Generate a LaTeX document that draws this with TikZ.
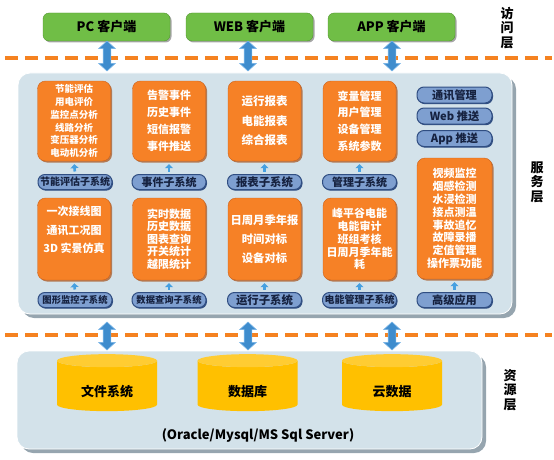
\documentclass[tikz,border=0pt]{standalone}
\usepackage{fontspec}
\setmainfont{Noto Sans CJK SC}
\usetikzlibrary{shapes.geometric,shapes.arrows,arrows.meta,shadows}
\definecolor{clientgreen}{RGB}{112,190,70}
\definecolor{clientedge}{RGB}{84,150,50}
\definecolor{boxorange}{RGB}{246,129,38}
\definecolor{boxedge}{RGB}{205,98,28}
\definecolor{pillfill}{RGB}{126,159,208}
\definecolor{pilledge}{RGB}{48,78,130}
\definecolor{pilltext}{RGB}{22,34,64}
\definecolor{panelfill}{RGB}{211,226,234}
\definecolor{panelshadow}{RGB}{150,165,175}
\definecolor{lineorange}{RGB}{245,130,32}
\definecolor{arrowblue}{RGB}{62,140,205}
\definecolor{arrowlight}{RGB}{120,180,230}
\definecolor{smallblue}{RGB}{70,160,225}
\definecolor{cylbody}{RGB}{255,192,0}
\definecolor{cyltop}{RGB}{255,204,50}
\begin{document}
\begin{tikzpicture}[x=1pt, y=-1pt,
    layerline/.style={draw=lineorange, line width=3.5pt, dash pattern=on 13pt off 7pt},
    panel/.style={draw=white, line width=0.8pt, fill=panelfill, rounded corners=12pt,
                  inner sep=0pt, drop shadow={shadow xshift=4pt, shadow yshift=-4pt,
                  fill=panelshadow, opacity=1}},
    client/.style={draw=clientedge, fill=clientgreen, rounded corners=6pt, inner sep=0pt,
                   minimum width=127pt, minimum height=28pt,
                   font=\bfseries\fontsize{13}{15}\selectfont,
                   drop shadow={shadow xshift=1.5pt, shadow yshift=-1.5pt, fill=black!35, opacity=1}},
    obox/.style={draw=boxedge, fill=boxorange, rounded corners=8pt, inner sep=0pt,
                 minimum width=73pt, text=white, align=center,
                 drop shadow={shadow xshift=1.5pt, shadow yshift=-1.5pt, fill=boxedge!80!black, opacity=0.7}},
    otxt/.style={text=white, align=center, inner sep=0pt},
    subsys/.style={draw=pilledge, line width=1pt, fill=pillfill, rounded corners=7pt,
                   inner sep=0pt, minimum width=74pt, minimum height=15pt, text=pilltext,
                   drop shadow={shadow xshift=1pt, shadow yshift=-1.2pt, fill=pilledge, opacity=1}},
    uparrow/.style={draw=smallblue, line width=2.6pt, -{Triangle[width=8pt,length=4pt]},
                    shorten <=2.5pt, shorten >=3pt},
    dblarrow/.style={double arrow, rotate=90, draw=arrowlight, line width=0.6pt, fill=arrowblue,
                     inner xsep=0pt, inner ysep=3.5pt, double arrow head extend=4.5pt,
                     double arrow tip angle=95},
    store/.style={cylinder, shape border rotate=90, aspect=0.25, cylinder uses custom fill,
                  cylinder body fill=cylbody, cylinder end fill=cyltop, inner sep=0pt,
                  minimum width=100pt, minimum height=57pt,
                  font=\bfseries\fontsize{13}{15}\selectfont},
    storetxt/.style={inner sep=0pt, font=\bfseries\fontsize{13}{15}\selectfont},
    layer/.style={align=center, inner sep=0pt, font=\bfseries\fontsize{13}{14.5}\selectfont}]
\useasboundingbox (0,0) rectangle (554,460);

% layer separators
\foreach \y in {58,335}{
  \draw[layerline] (5,\y) -- (552,\y);
}

% panels
\node[panel, minimum width=494pt, minimum height=241pt] (svc) at (265,193.5) {};
\node[panel, minimum width=465pt, minimum height=98pt] (res) at (249.5,400) {};

% access layer
\node[client] (pc) at (106.5,27) {PC 客户端};
\node[client] (web) at (249.5,27) {WEB 客户端};
\node[client] (app) at (391.5,27) {APP 客户端};
\node[layer] (lacc) at (507,28) {访\\问\\层};

% service layer, first row
\node[obox, minimum height=80pt, font=\bfseries\fontsize{9.5}{12.8}\selectfont] (ev) at (74,121)
  {节能评估\\用电评价\\监控点分析\\线路分析\\变压器分析\\电动机分析};
\node[obox, minimum height=80pt, font=\bfseries\fontsize{11}{17}\selectfont] (evt) at (169,121)
  {告警事件\\历史事件\\短信报警\\事件推送};
\node[obox, minimum height=80pt, font=\bfseries\fontsize{11.5}{19.5}\selectfont] (rpt) at (264.5,121)
  {运行报表\\电能报表\\综合报表};
\node[obox, minimum height=80pt, font=\bfseries\fontsize{11}{16.7}\selectfont] (mgt) at (359.5,121)
  {变量管理\\用户管理\\设备管理\\系统参数};

\node[subsys, font=\bfseries\fontsize{10}{12}\selectfont] (ev-s) at (75,182) {节能评估子系统};
\node[subsys, font=\bfseries\fontsize{11}{12}\selectfont] (evt-s) at (169,182) {事件子系统};
\node[subsys, font=\bfseries\fontsize{11.4}{12}\selectfont] (rpt-s) at (264.5,182) {报表子系统};
\node[subsys, font=\bfseries\fontsize{11}{12}\selectfont] (mgt-s) at (359.5,182) {管理子系统};

% service layer, second row
\node[obox, minimum height=82pt] (gfx) at (74,239) {};
\node[otxt, font=\bfseries\fontsize{11}{18.5}\selectfont] (gfx-t) at (74,230)
  {一次接线图\\通讯工况图\\3D 实景仿真};
\node[obox, minimum height=82pt, font=\bfseries\fontsize{11}{12.5}\selectfont] (qry) at (169,239)
  {实时数据\\历史数据\\图表查询\\开关统计\\越限统计};
\node[obox, minimum height=82pt, font=\bfseries\fontsize{11.3}{19}\selectfont] (run) at (264.5,239)
  {日周月季年报\\时间对标\\设备对标};
\node[obox, minimum height=82pt, font=\bfseries\fontsize{11}{12.8}\selectfont] (eng) at (359.5,239)
  {峰平谷电能\\电能审计\\班组考核\\日周月季年能\\耗};

\node[subsys, font=\bfseries\fontsize{9.3}{12}\selectfont] (gfx-s) at (75,300) {图形监控子系统};
\node[subsys, font=\bfseries\fontsize{9.3}{12}\selectfont] (qry-s) at (169,300) {数据查询子系统};
\node[subsys, font=\bfseries\fontsize{11.4}{12}\selectfont] (run-s) at (264.5,300) {运行子系统};
\node[subsys, font=\bfseries\fontsize{10}{12}\selectfont] (eng-s) at (359.5,300) {电能管理子系统};

% service layer, last column
\node[subsys, minimum width=75pt, minimum height=16pt, font=\bfseries\fontsize{11.2}{12}\selectfont] (com) at (454.5,95) {通讯管理};
\node[subsys, minimum width=75pt, minimum height=16pt, font=\bfseries\fontsize{11.2}{12}\selectfont] (wpush) at (454.5,116) {Web 推送};
\node[subsys, minimum width=75pt, minimum height=16pt, font=\bfseries\fontsize{11.2}{12}\selectfont] (apush) at (454.5,138.5) {App 推送};
\node[obox, minimum width=75pt, minimum height=121pt, font=\bfseries\fontsize{11}{12.8}\selectfont] (adv) at (454.5,218.5)
  {视频监控\\烟感检测\\水浸检测\\接点测温\\事故追忆\\故障录播\\定值管理\\操作票功能};
\node[subsys, minimum width=75pt, font=\bfseries\fontsize{11.2}{12}\selectfont] (adv-s) at (454.5,300) {高级应用};

\foreach \b in {ev,evt,rpt,mgt,gfx,qry,run,eng,adv}{
  \draw[uparrow] (\b-s.north) -- (\b.south);
}
\node[layer] (lsvc) at (537,182) {服\\务\\层};

% resource layer
\node[store] (fs) at (107,386) {\phantom{文件系统}};
\node[store] (db) at (247.5,386) {\phantom{文件系统}};
\node[store] (cloud) at (392,386) {\phantom{文件系统}};
\node[storetxt] (fs-t) at (107,392) {文件系统};
\node[storetxt] (db-t) at (247.5,392) {数据库};
\node[storetxt] (cloud-t) at (392,392) {云数据};
\node[storetxt] (dbms) at (258,435) {(Oracle/Mysql/MS Sql Server)};
\node[layer] (lres) at (510,390) {资\\源\\层};

% layer links
\foreach \x/\n in {107/a,248/b,392/c}{
  \node[dblarrow, minimum height=30pt] (up-\n) at (\x,56) {};
  \node[dblarrow, minimum height=28pt] (dn-\n) at (\x,336) {};
}
\end{tikzpicture}
\end{document}
